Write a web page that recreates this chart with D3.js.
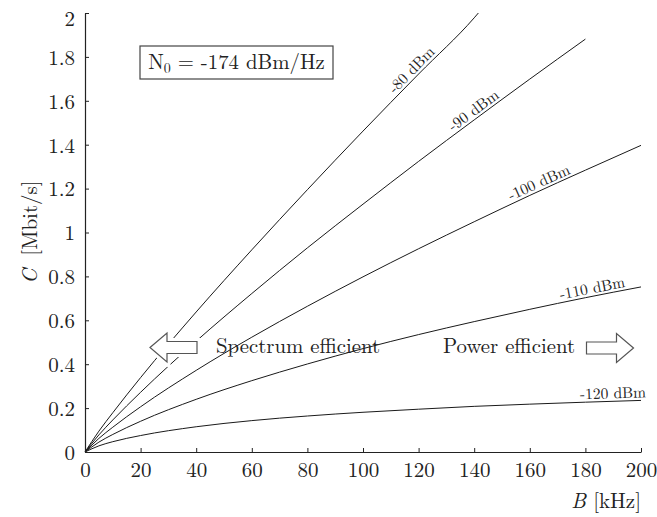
<!DOCTYPE html>
<html>
<head>
<meta charset="utf-8">
<script src="https://cdn.jsdelivr.net/npm/d3@7"></script>
<style>
  body { margin: 0; background: #fff; }
  svg { display: block; }
  text { font-family: "Latin Modern Roman", "Liberation Serif", serif; fill: #222; }
</style>
</head>
<body>
<script>
// bandwidth in kHz, capacity in Mbit/s
var bw = [0, 5, 10, 20, 40, 60, 80, 100, 120, 140, 160, 180, 200];
var bw80 = [0, 5, 10, 20, 40, 60, 80, 100, 120, 140, 141.5];
var bw90 = [0, 5, 10, 20, 40, 60, 80, 100, 120, 140, 160, 180];

var cap80 = [0, 0.095, 0.179, 0.339, 0.638, 0.921, 1.195, 1.462, 1.722, 1.978, 2.0];
var cap90 = [0, 0.078, 0.146, 0.272, 0.505, 0.722, 0.930, 1.129, 1.324, 1.513, 1.699, 1.881];
var cap100 = [0, 0.062, 0.113, 0.206, 0.372, 0.523, 0.664, 0.798, 0.926, 1.049, 1.169, 1.284, 1.397];
var cap110 = [0, 0.045, 0.080, 0.140, 0.240, 0.325, 0.401, 0.471, 0.535, 0.594, 0.650, 0.703, 0.752];
var cap120 = [0, 0.028, 0.047, 0.075, 0.115, 0.143, 0.164, 0.181, 0.195, 0.208, 0.218, 0.227, 0.235];

var seriesNames = ["-80 dBm", "-90 dBm", "-100 dBm", "-110 dBm", "-120 dBm"];
var labelAt = [119.5, 141.5, 164.5, 183, 190];   // kHz where each label sits

var xTicks = [0, 20, 40, 60, 80, 100, 120, 140, 160, 180, 200];
var yTicks = [0, 0.2, 0.4, 0.6, 0.8, 1, 1.2, 1.4, 1.6, 1.8, 2];

var W = 657, H = 517;
var FONT = "'Latin Modern Roman', 'Liberation Serif', serif";
var svg = d3.select("body").append("svg").attr("width", W).attr("height", H);

var x = d3.scaleLinear().domain([0, 200]).range([85, 641]);
var y = d3.scaleLinear().domain([0, 2]).range([452, 13]);

var series = [
  { name: seriesNames[0], b: bw80, c: cap80, at: labelAt[0] },
  { name: seriesNames[1], b: bw90, c: cap90, at: labelAt[1] },
  { name: seriesNames[2], b: bw, c: cap100, at: labelAt[2] },
  { name: seriesNames[3], b: bw, c: cap110, at: labelAt[3] },
  { name: seriesNames[4], b: bw, c: cap120, at: labelAt[4] }
];

var line = d3.line()
  .x(function(d) { return x(d[0]); })
  .y(function(d) { return y(d[1]); })
  .curve(d3.curveMonotoneX);

// curves
var curves = svg.append("g");
series.forEach(function(s) {
  var pts = s.b.map(function(b, i) { return [b, s.c[i]]; });
  s.pts = pts;
  curves.append("path")
    .attr("d", line(pts))
    .attr("fill", "none")
    .attr("stroke", "#1a1a1a")
    .attr("stroke-width", 1);
});

// labels along the curves
series.forEach(function(s) {
  var interp = function(b) {
    for (var i = 1; i < s.pts.length; i++) {
      if (b <= s.pts[i][0]) {
        var p = s.pts[i - 1], q = s.pts[i];
        return p[1] + (q[1] - p[1]) * (b - p[0]) / (q[0] - p[0]);
      }
    }
    return s.pts[s.pts.length - 1][1];
  };
  var b0 = s.at - 3, b1 = s.at + 3;
  var ang = Math.atan2(y(interp(b1)) - y(interp(b0)), x(b1) - x(b0)) * 180 / Math.PI;
  var cx = x(s.at), cy = y(interp(s.at));
  svg.append("text")
    .attr("transform", "translate(" + cx + "," + cy + ") rotate(" + ang + ") translate(0,-3)")
    .attr("text-anchor", "middle")
    .style("font-size", "15.5px")
    .text(s.name);
});

// arrows
function arrow(dir, tipX, midY) {
  var hl = 17, hw = 14.5, sl = 30, sw = 6;
  var k = dir === "left" ? 1 : -1;
  var p = [
    [tipX, midY], [tipX + k * hl, midY - hw], [tipX + k * hl, midY - sw],
    [tipX + k * (hl + sl), midY - sw], [tipX + k * (hl + sl), midY + sw],
    [tipX + k * hl, midY + sw], [tipX + k * hl, midY + hw]
  ];
  var d = "M" + p.map(function(v) { return v.join(","); }).join("L") + "Z";
  svg.append("path").attr("d", d).attr("fill", "#fff").attr("stroke", "#fff").attr("stroke-width", 7);
  svg.append("path").attr("d", d).attr("fill", "#fff").attr("stroke", "#555").attr("stroke-width", 1.2);
}
arrow("left", 150, 347.5);
arrow("right", 633.5, 348);

svg.append("text").attr("x", 216).attr("y", 353).style("font-size", "20.8px").text("Spectrum efficient");
svg.append("text").attr("x", 443).attr("y", 353).style("font-size", "20.8px").text("Power efficient");

// N0 box
svg.append("rect").attr("x", 140).attr("y", 46).attr("width", 193).attr("height", 33)
  .attr("fill", "#fff").attr("stroke", "#444").attr("stroke-width", 1.2);
var nt = svg.append("text").attr("x", 236.5).attr("y", 69).attr("text-anchor", "middle").style("font-size", "20.8px");
nt.append("tspan").text("N");
nt.append("tspan").attr("dy", 4).style("font-size", "14px").text("0");
nt.append("tspan").attr("dy", -4).text(" = -174 dBm/Hz");

// axes
var xAxis = d3.axisBottom(x).tickValues(xTicks).tickSizeInner(-4).tickSizeOuter(0).tickPadding(10);
var yAxis = d3.axisLeft(y).tickValues(yTicks).tickSizeInner(-4).tickSizeOuter(0).tickPadding(10)
  .tickFormat(function(d) { return d3.format("")(d); });

var gx = svg.append("g").attr("transform", "translate(0," + y(0) + ")").call(xAxis);
var gy = svg.append("g").attr("transform", "translate(" + x(0) + ",0)").call(yAxis);
[gx, gy].forEach(function(g) {
  g.attr("font-family", null);
  g.selectAll("path").attr("stroke", "#222").attr("stroke-width", 1.2);
  g.selectAll("line").attr("stroke", "#222").attr("stroke-width", 1);
  g.selectAll("text").style("font-size", "21px").style("font-family", FONT).attr("fill", "#222");
});
gy.selectAll("text").attr("dy", "0.35em");
// top label sits a little lower so it stays inside the frame
gy.selectAll(".tick text").filter(function(d) { return d === 2; }).attr("dy", "0.6em");

// axis titles
var xl = svg.append("text").attr("x", 641).attr("y", 508).attr("text-anchor", "end").style("font-size", "21px");
xl.append("tspan").style("font-style", "italic").text("B");
xl.append("tspan").text(" [kHz]");

var yl = svg.append("text").attr("transform", "translate(37,232) rotate(-90)").attr("text-anchor", "middle").style("font-size", "21px");
yl.append("tspan").style("font-style", "italic").text("C");
yl.append("tspan").attr("dx", 6).text(" [Mbit/s]");
</script>
</body>
</html>
